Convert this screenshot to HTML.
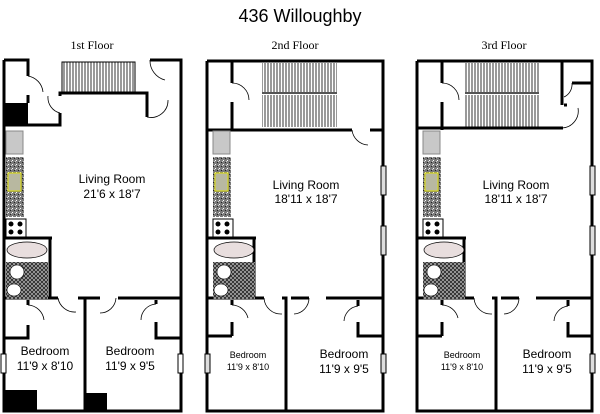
<!DOCTYPE html>
<html><head><style>
html,body{margin:0;padding:0;background:#fff;}
svg{display:block;}
text{font-family:"Liberation Serif",serif;fill:#000;}
.s{font-family:"Liberation Sans",sans-serif;}
</style></head><body>
<svg width="600" height="414" viewBox="0 0 600 414" xmlns="http://www.w3.org/2000/svg">
<defs>
<pattern id="hx" width="4" height="4" patternUnits="userSpaceOnUse">
<rect width="4" height="4" fill="#aaa"/><path d="M0 0L4 4M4 0L0 4" stroke="#222" stroke-width="0.8"/></pattern>
<pattern id="sp" width="4" height="4" patternUnits="userSpaceOnUse">
<rect width="4" height="4" fill="#7a7a7a"/><rect x="0" y="0" width="1" height="1" fill="#fff"/><rect x="2" y="2" width="1" height="1" fill="#222"/><rect x="3" y="1" width="1" height="1" fill="#ccc"/></pattern>
<pattern id="st" width="3" height="10" patternUnits="userSpaceOnUse">
<rect width="3" height="10" fill="#fff"/><line x1="1" y1="0" x2="1" y2="10" stroke="#000" stroke-width="0.8"/></pattern>
<g id="kit">
<rect x="6" y="131" width="17" height="23" fill="#c8c8c8" stroke="#888"/>
<rect x="6" y="157" width="18" height="60" fill="url(#sp)"/>
<rect x="8" y="173" width="13" height="18" fill="#b8b8a0" stroke="#dd0"/>
<rect x="6" y="219" width="20" height="18" fill="#fff" stroke="#000"/>
<circle cx="11" cy="224" r="2.5"/><circle cx="20" cy="224" r="2.5"/><circle cx="11" cy="232" r="2.5"/><circle cx="20" cy="232" r="2.5"/>
<rect x="6" y="262" width="42" height="37" fill="url(#hx)"/>
<ellipse cx="27" cy="250" rx="20" ry="8" fill="#e8dede" stroke="#000" stroke-width="0.7"/>
<ellipse cx="17" cy="272" rx="7" ry="7" fill="#fff" stroke="#000" stroke-width="0.6"/>
<ellipse cx="14" cy="290" rx="7" ry="6" fill="#fff" stroke="#000" stroke-width="0.6"/>
</g>
</defs>
<text x="300" y="22" class="s" font-size="18" text-anchor="middle">436 Willoughby</text>
<text x="92" y="49" font-size="12" text-anchor="middle">1st Floor</text>
<text x="295" y="49" font-size="12" text-anchor="middle">2nd Floor</text>
<text x="504" y="49" font-size="12" text-anchor="middle">3rd Floor</text>

<!-- Plan 1 -->
<g fill="none" stroke="#000">
<rect x="62" y="62" width="73" height="30" fill="url(#st)" stroke="#000" stroke-width="1"/>
<g stroke-width="3">
<path d="M4 60V411H181V60H150M4 60H28V76M28 95V103M4 125H60V113M60 96V93H147V117"/>
<path d="M4 298H58M78 298H85V411M85 298H100M118 298H181"/>
<path d="M28 300V305M28 325V338H4M156 300V304M156 322V338H181"/>
<path d="M50 238V298M4 238H52"/>
</g>
<g stroke-width="0.8">
<path d="M28 76A18 18 0 0 1 43 92M60 113A16 16 0 0 1 48 96M147 117A17 17 0 0 0 168 100M150 60A20 20 0 0 0 165 80M58 298A17 17 0 0 0 76 312M100 313A16 16 0 0 0 116 298M28 305A17 17 0 0 1 44 320M156 304A16 16 0 0 0 141 320"/>
</g>
</g>
<rect x="4" y="103" width="24" height="22"/>
<rect x="5" y="390" width="32" height="21"/><rect x="86" y="393" width="21" height="18"/>
<rect x="1" y="354" width="5" height="19" fill="#fff" stroke="#000"/><rect x="178" y="354" width="5" height="19" fill="#fff" stroke="#000"/>
<use href="#kit"/>
<g class="s" font-size="12">
<text class="s" x="112" y="183" font-size="12" text-anchor="middle">Living Room</text>
<text class="s" x="112" y="198" font-size="12" text-anchor="middle">21'6 x 18'7</text>
<text class="s" x="45" y="355" font-size="12" text-anchor="middle">Bedroom</text>
<text class="s" x="45" y="370" font-size="12" text-anchor="middle">11'9 x 8'10</text>
<text class="s" x="130" y="355" font-size="12" text-anchor="middle">Bedroom</text>
<text class="s" x="130" y="370" font-size="12" text-anchor="middle">11'9 x 9'5</text>
</g>

<!-- Plan 2 -->
<g transform="translate(204,0)">
<rect x="58" y="63" width="75" height="29" fill="url(#st)"/>
<rect x="58" y="95" width="75" height="32" fill="url(#st)"/>
<line x1="58" y1="93" x2="133" y2="93" stroke="#555" stroke-width="2"/>
<g fill="none" stroke="#000" stroke-width="3">
<path d="M3 61V411H179V61H3M28 61V83M28 102V130M3 130H148M166 130H179"/>
<path d="M3 298H60M78 298H82V411M87 298H105M122 298H179"/>
<path d="M28 300V305M28 336H3M28 322V336M154 300V306M154 322V336H179"/>
<path d="M50 238V298M3 238H52"/>
</g>
<g fill="none" stroke="#000" stroke-width="0.8">
<path d="M28 83A17 17 0 0 1 45 100M148 130A17 17 0 0 0 164 145M60 298A17 17 0 0 0 78 314M105 298A16 16 0 0 1 90 314M28 305A17 17 0 0 1 44 318M154 306A16 16 0 0 0 140 321"/>
</g>
<use href="#kit" transform="translate(3,0)"/>
<rect x="177" y="166" width="5" height="29" fill="#ddd" stroke="#000"/>
<rect x="177" y="226" width="5" height="29" fill="#ddd" stroke="#000"/>
<rect x="1" y="354" width="5" height="19" fill="#ddd" stroke="#000"/>
<rect x="177" y="354" width="5" height="19" fill="#ddd" stroke="#000"/>
<text class="s" x="102" y="189" font-size="12" text-anchor="middle">Living Room</text>
<text class="s" x="102" y="203" font-size="12" text-anchor="middle">18'11 x 18'7</text>
<text class="s" x="44" y="358" font-size="9" text-anchor="middle">Bedroom</text>
<text class="s" x="44" y="370" font-size="9" text-anchor="middle">11'9 x 8'10</text>
<text class="s" x="140" y="358" font-size="12" text-anchor="middle">Bedroom</text>
<text class="s" x="140" y="373" font-size="12" text-anchor="middle">11'9 x 9'5</text>
</g>

<!-- Plan 3 -->
<g transform="translate(414,0)">
<rect x="51" y="63" width="74" height="29" fill="url(#st)"/>
<rect x="51" y="95" width="74" height="32" fill="url(#st)"/>
<line x1="51" y1="93" x2="125" y2="93" stroke="#555" stroke-width="2"/>
<g fill="none" stroke="#000" stroke-width="3">
<path d="M3 61V411H178V61H3M28 61V83M28 102V130M3 128H149M148 61V105M158 83H178M153 105H150"/>
<path d="M3 298H60M78 298H82V411M87 298H105M122 298H178"/>
<path d="M28 300V305M28 336H3M28 322V336M154 300V306M154 322V336H178"/>
<path d="M50 238V298M3 238H52"/>
</g>
<g fill="none" stroke="#000" stroke-width="0.8">
<path d="M28 83A17 17 0 0 1 45 100M148 128A17 17 0 0 0 164 108M158 83A14 14 0 0 1 150 97M60 298A17 17 0 0 0 78 314M105 298A16 16 0 0 1 90 314M28 305A17 17 0 0 1 44 318M154 306A16 16 0 0 0 140 321"/>
</g>
<use href="#kit" transform="translate(3,0)"/>
<rect x="176" y="166" width="5" height="29" fill="#ddd" stroke="#000"/>
<rect x="176" y="226" width="5" height="29" fill="#ddd" stroke="#000"/>
<rect x="176" y="354" width="5" height="19" fill="#ddd" stroke="#000"/>
<text class="s" x="102" y="189" font-size="12" text-anchor="middle">Living Room</text>
<text class="s" x="102" y="203" font-size="12" text-anchor="middle">18'11 x 18'7</text>
<text class="s" x="48" y="358" font-size="9" text-anchor="middle">Bedroom</text>
<text class="s" x="48" y="370" font-size="9" text-anchor="middle">11'9 x 8'10</text>
<text class="s" x="133" y="358" font-size="12" text-anchor="middle">Bedroom</text>
<text class="s" x="133" y="373" font-size="12" text-anchor="middle">11'9 x 9'5</text>
</g>
</svg>
</body></html>
